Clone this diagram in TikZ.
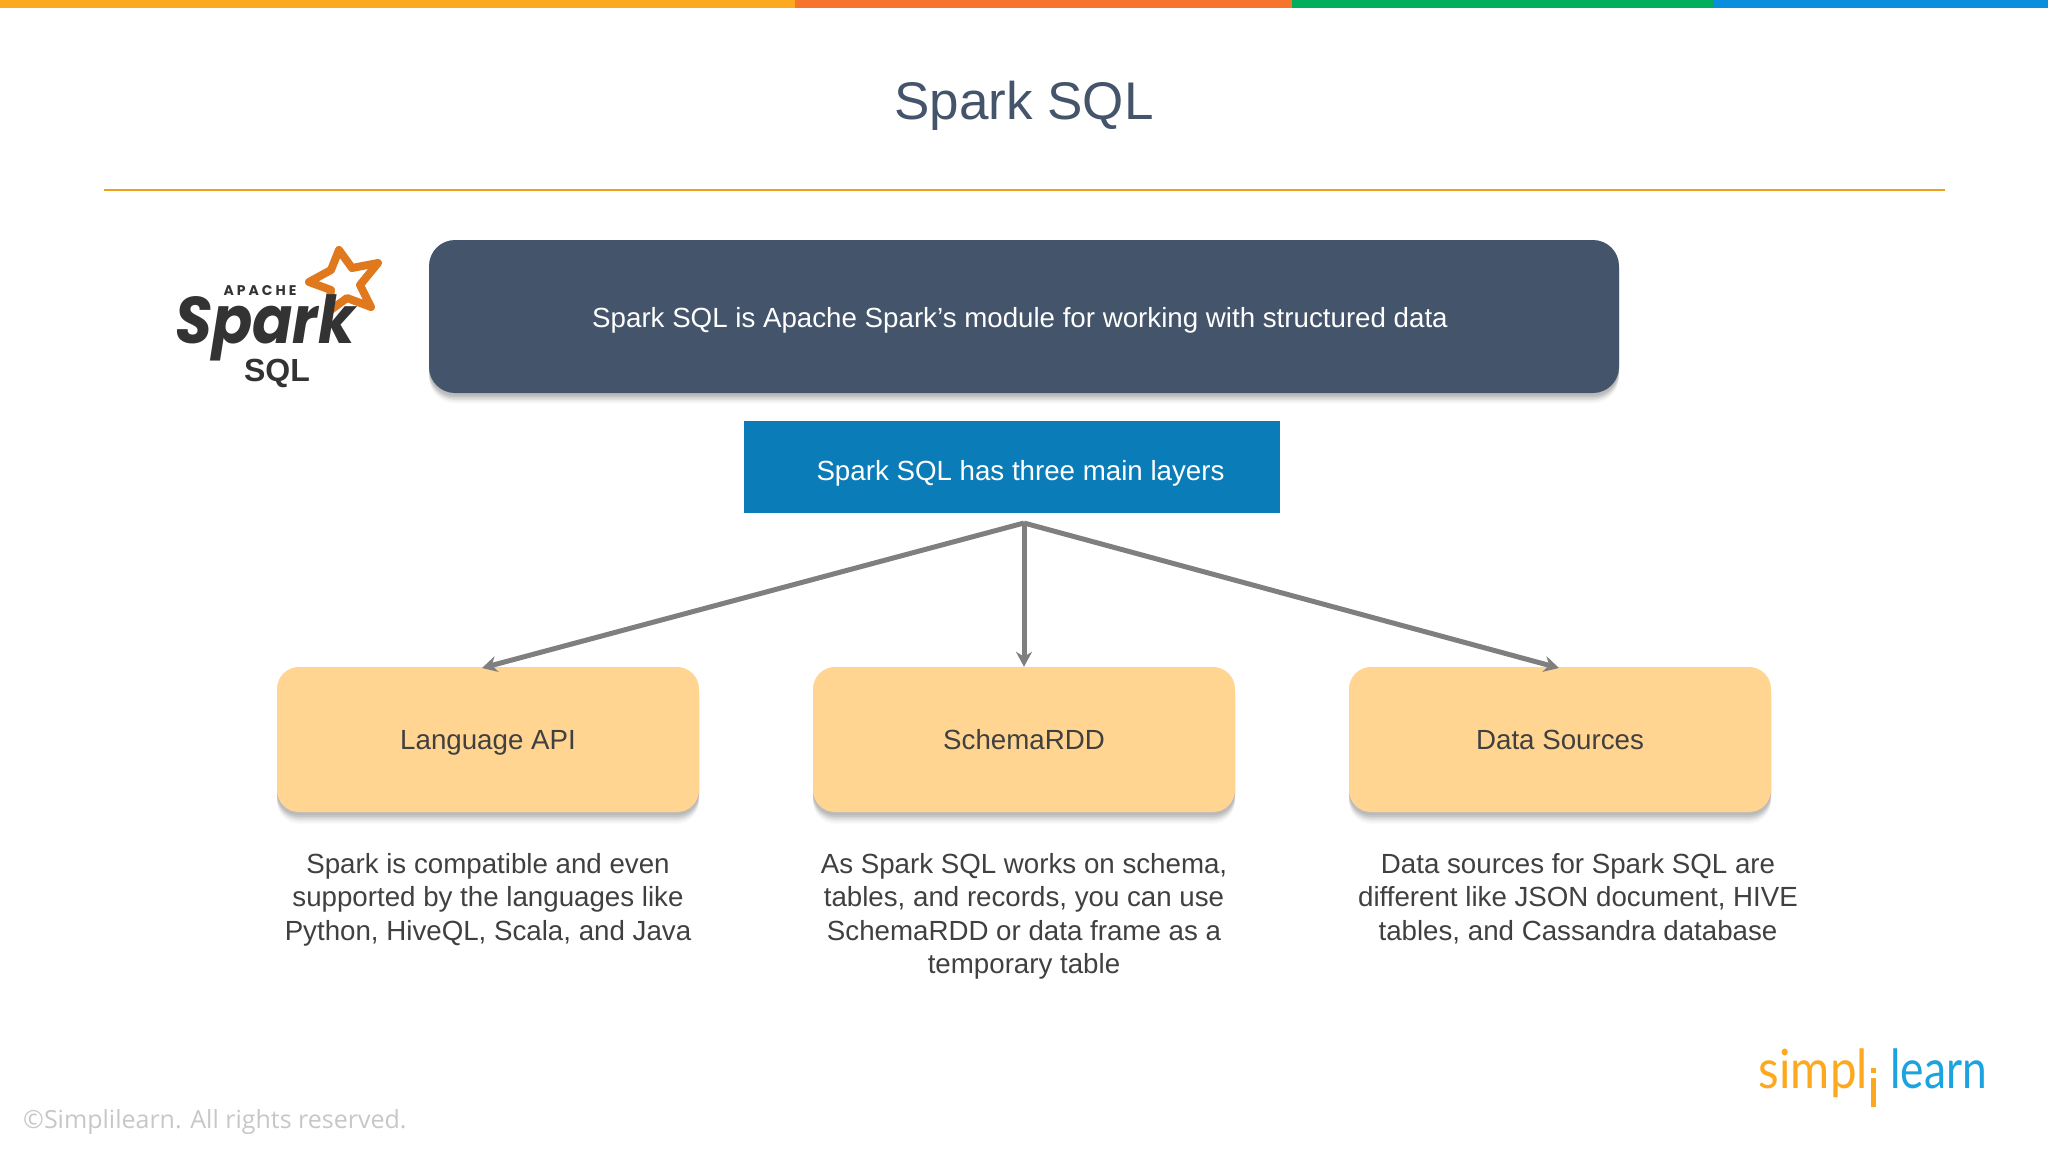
\documentclass[tikz,border=0pt]{standalone}
\usepackage{fontspec}
\setmainfont{Liberation Sans}
\newfontfamily\markfont{Poppins}
\newfontfamily\copyfont{Open Sans}
\newfontfamily\logofont{Lato}
\usetikzlibrary{shadows,arrows.meta}
\definecolor{slate}{HTML}{44546A}
\definecolor{ribbon}{HTML}{0A7CB8}
\definecolor{peach}{HTML}{FFD591}
\definecolor{linkgray}{HTML}{7F7F7F}
\definecolor{bodygray}{HTML}{404040}
\definecolor{sunny}{HTML}{FCA91F}
\definecolor{tangerine}{HTML}{F6742B}
\definecolor{leaf}{HTML}{00AE5B}
\definecolor{sky}{HTML}{0A8FDC}
\definecolor{sparkstar}{HTML}{E0781E}
\definecolor{simplblue}{HTML}{1BA3E0}
\tikzset{
   softshadow/.style={
      drop shadow={shadow xshift=0pt, shadow yshift=-#1*.4pt, opacity=.16},
      drop shadow={shadow xshift=0pt, shadow yshift=-#1*.6pt, opacity=.16},
      drop shadow={shadow xshift=0pt, shadow yshift=-#1*.8pt, opacity=.14},
      drop shadow={shadow xshift=0pt, shadow yshift=-#1*1pt, opacity=.12},
      drop shadow={shadow xshift=0pt, shadow yshift=-#1*1.25pt, opacity=.08},
      drop shadow={shadow xshift=0pt, shadow yshift=-#1*1.5pt, opacity=.05},
   },
   bigbox/.style={fill=slate, rounded corners=26pt, minimum width=1190pt, minimum height=153pt, softshadow=7},
   layerbox/.style={fill=peach, rounded corners=22pt, minimum width=422pt, minimum height=145pt, text=bodygray, text height=26pt, text depth=6pt, font=\fontsize{27.7}{34}\selectfont, softshadow=8},
   layertext/.style={anchor=north, align=center, text=bodygray, inner sep=0pt, font=\fontsize{27.7}{33.4}\selectfont},
   link/.style={draw=linkgray, line width=5pt, -{Stealth[length=15pt,width=16pt]}},
}
\begin{document}
\begin{tikzpicture}[x=1pt, y=-1pt]
\useasboundingbox (0,0) rectangle (2048,1152);
\fill[sunny] (0,0) rectangle (795,8);
\fill[tangerine] (795,0) rectangle (1292,8);
\fill[leaf] (1292,0) rectangle (1713,8);
\fill[sky] (1713,0) rectangle (2048,8);
\node (title) at (1024,106) [text=slate, font=\fontsize{53}{60}\selectfont] {Spark SQL};
\draw[sunny!95!black, line width=1.6pt] (104,190) -- (1945,190);

\node (module) at (1024,316.5) [bigbox] {};
\node (moduletext) at (1020,320) [text=white, font=\fontsize{27.7}{34}\selectfont] {Spark SQL is Apache Spark’s module for working with structured data};
\node (layers) at (1012,467) [fill=ribbon, minimum width=536pt, minimum height=92pt] {};
\node (layerstext) at (1020.5,473) [text=white, font=\fontsize{27.7}{34}\selectfont] {Spark SQL has three main layers};
\coordinate (fork) at (1024,523);

\node (api) at (488,739.5) [layerbox] {Language API};
\node (rdd) at (1024,739.5) [layerbox] {SchemaRDD};
\node (src) at (1560,739.5) [layerbox] {Data Sources};
\coordinate (apitop) at (482,668);
\coordinate (srctop) at (1559,668);
\draw[link] (fork) -- (apitop);
\draw[link] (fork) -- (rdd.north);
\draw[link] (fork) -- (srctop);

\node (apitext) at (488,853) [layertext] {Spark is compatible and even\\supported by the languages like\\Python, HiveQL, Scala, and Java};
\node (rddtext) at (1024,853) [layertext] {As Spark SQL works on schema,\\tables, and records, you can use\\SchemaRDD or data frame as a\\temporary table};
\node (srctext) at (1578,853) [layertext] {Data sources for Spark SQL are\\different like JSON document, HIVE\\tables, and Cassandra database};

% logo top left
\draw[sparkstar, fill=white, line width=8pt, line join=round] (339,250) -- (352,268) -- (378,263) -- (360,285) -- (371,307) -- (347,298) -- (328,312) -- (331,290) -- (309,282) -- (331,270) -- cycle;
\node (spark) at (265,343) [anchor=base, text=black!80, inner sep=0pt, text depth=0pt, xscale=.9, transform shape, font=\markfont\bfseries\itshape\fontsize{66}{70}\selectfont] {Spark};
\node (apache) at (260,291) [text=black!80, inner sep=0pt, font=\markfont\bfseries\fontsize{14}{14}\selectfont] {A P A C H E};
\node (sql) at (277,373) [text=black!80, inner sep=0pt, font=\bfseries\fontsize{32}{34}\selectfont] {SQL};

% logo bottom right
\node (simpl) at (1868,1088) [anchor=base east, text=sunny, inner sep=0pt, xscale=.88, transform shape, font=\logofont\fontsize{54}{60}\selectfont] {simpl};
\node (learn) at (1890,1088) [anchor=base west, text=simplblue, inner sep=0pt, xscale=.82, transform shape, font=\logofont\fontsize{54}{60}\selectfont] {learn};
\fill[sunny] (1871,1068) rectangle (1876,1073);
\fill[sunny] (1871,1078) rectangle (1876,1107);

\node (copy) at (23,1122) [anchor=west, text=black!22, inner sep=0pt, font=\copyfont\fontsize{25}{30}\selectfont] {©Simplilearn. All rights reserved.};
\end{tikzpicture}
\end{document}
